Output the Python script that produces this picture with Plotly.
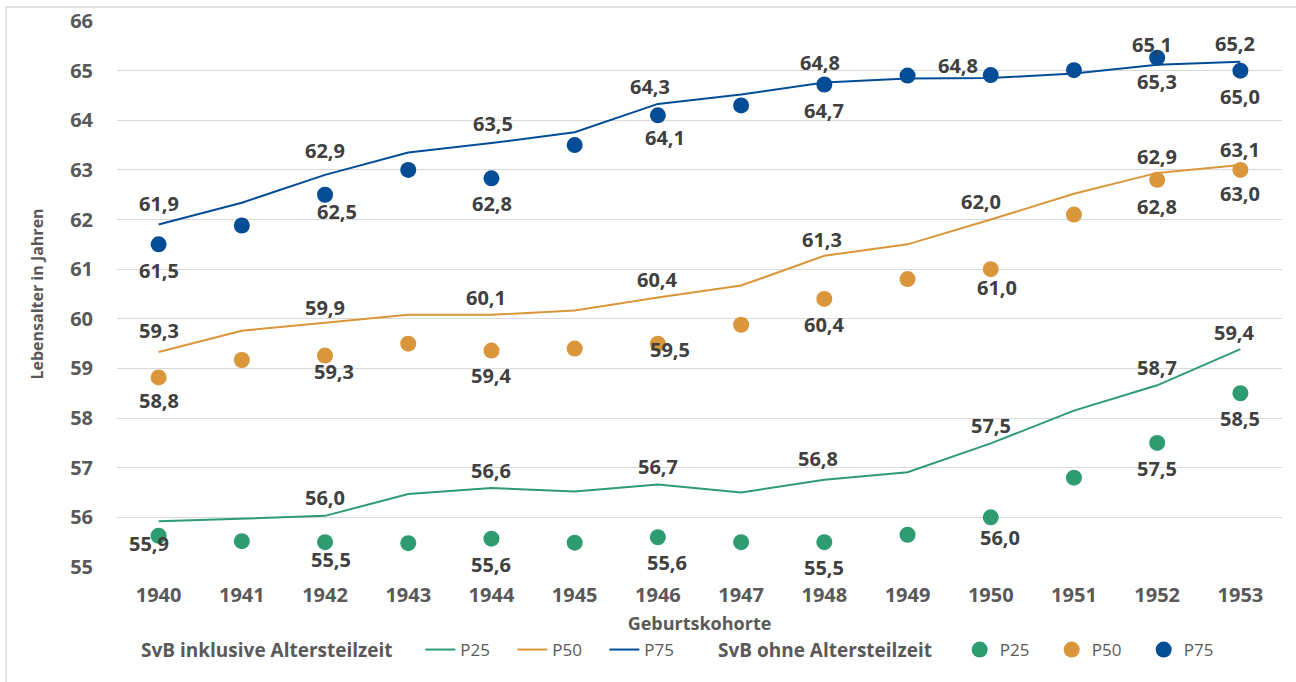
import plotly.graph_objects as go

# ---------------- data ----------------
years = ["1940", "1941", "1942", "1943", "1944", "1945", "1946",
         "1947", "1948", "1949", "1950", "1951", "1952", "1953"]

# SvB inklusive Altersteilzeit (lines)
inkl_p25 = [55.92, 55.98, 56.03, 56.47, 56.59, 56.52, 56.66, 56.50, 56.76, 56.91, 57.49, 58.15, 58.66, 59.39]
inkl_p50 = [59.33, 59.76, 59.92, 60.08, 60.08, 60.17, 60.43, 60.67, 61.27, 61.50, 62.00, 62.52, 62.94, 63.10]
inkl_p75 = [61.90, 62.34, 62.90, 63.35, 63.54, 63.76, 64.33, 64.52, 64.76, 64.84, 64.85, 64.94, 65.12, 65.18]

# SvB ohne Altersteilzeit (dots)
ohne_p25 = [55.63, 55.52, 55.50, 55.48, 55.57, 55.49, 55.60, 55.50, 55.50, 55.65, 56.00, 56.80, 57.50, 58.50]
ohne_p50 = [58.82, 59.17, 59.26, 59.50, 59.36, 59.40, 59.50, 59.88, 60.40, 60.80, 61.00, 62.10, 62.80, 63.00]
ohne_p75 = [61.50, 61.88, 62.50, 63.00, 62.83, 63.50, 64.10, 64.30, 64.72, 64.90, 64.91, 65.01, 65.26, 65.00]

y_ticks = [55, 56, 57, 58, 59, 60, 61, 62, 63, 64, 65, 66]

# ---------------- styles ----------------
GREEN = "#2E9B71"
ORANGE = "#D9963A"
BLUE = "#034C96"
LABEL_COLOR = "#404040"
TICK_COLOR = "#595959"
FONT = "Open Sans"

# data-label placement: year -> (xshift px, yshift px)
label_pos = {
    "inkl_p75": {"1940": (0, 21), "1942": (0, 24), "1944": (2, 20), "1946": (-8, 17),
                 "1948": (-4, 20), "1950": (-33, 13), "1952": (-5, 20), "1953": (-5, 18)},
    "ohne_p75": {"1940": (0, -26), "1942": (12, -17), "1944": (1, -25), "1946": (7, -22),
                 "1948": (0, -26), "1952": (0, -24), "1953": (0, -26)},
    "inkl_p50": {"1940": (0, 22), "1942": (0, 15), "1944": (-5, 17), "1946": (0, 18),
                 "1948": (-2, 16), "1950": (-10, 18), "1952": (0, 16), "1953": (0, 15)},
    "ohne_p50": {"1940": (0, -23), "1942": (9, -16), "1944": (0, -25), "1946": (12, -6),
                 "1948": (0, -26), "1950": (6, -18), "1952": (0, -27), "1953": (0, -24)},
    "inkl_p25": {"1940": (-10, -22), "1942": (0, 18), "1944": (0, 18), "1946": (0, 18),
                 "1948": (-6, 21), "1950": (0, 18), "1952": (0, 18), "1953": (-6, 17)},
    "ohne_p25": {"1942": (6, -17), "1944": (0, -26), "1946": (9, -25), "1948": (0, -25),
                 "1950": (9, -20), "1952": (0, -26), "1953": (0, -25)},
}

series_values = {
    "inkl_p25": inkl_p25, "inkl_p50": inkl_p50, "inkl_p75": inkl_p75,
    "ohne_p25": ohne_p25, "ohne_p50": ohne_p50, "ohne_p75": ohne_p75,
}

fig = go.Figure()

# lines (legend 1)
for name, vals, col in [("P25", inkl_p25, GREEN), ("P50", inkl_p50, ORANGE), ("P75", inkl_p75, BLUE)]:
    fig.add_trace(go.Scatter(x=years, y=vals, mode="lines", name=name,
                             line=dict(color=col, width=2), legend="legend",
                             hoverinfo="x+y"))

# dots (legend 2)
for name, vals, col in [("P25", ohne_p25, GREEN), ("P50", ohne_p50, ORANGE), ("P75", ohne_p75, BLUE)]:
    fig.add_trace(go.Scatter(x=years, y=vals, mode="markers", name=name,
                             marker=dict(color=col, size=16), legend="legend2",
                             hoverinfo="x+y"))

# data labels (x given as category index so "1940" is not read as a number)
annotations = []
for key, positions in label_pos.items():
    vals = series_values[key]
    for yr, (dx, dy) in positions.items():
        i = years.index(yr)
        v = vals[i]
        annotations.append(dict(
            x=i, y=v, xref="x", yref="y",
            text=f"{v:.1f}".replace(".", ","),
            showarrow=False, xshift=dx, yshift=dy,
            font=dict(family=FONT, size=20, color=LABEL_COLOR, weight="bold"),
        ))

W, H = 1296, 682
ML, MR, MT, MB = 117, 14, 21, 115
pw, ph = W - ML - MR, H - MT - MB


def px2paper_x(px):
    return (px - ML) / pw


def px2paper_y(py):
    return (H - MB - py) / ph


shapes = [
    dict(type="line", xref="paper", yref="paper",
         x0=px2paper_x(6), x1=px2paper_x(1296), y0=px2paper_y(7), y1=px2paper_y(7),
         line=dict(color="#D9D9D9", width=1.5)),
    dict(type="line", xref="paper", yref="paper",
         x0=px2paper_x(6), x1=px2paper_x(6), y0=px2paper_y(7), y1=px2paper_y(682),
         line=dict(color="#D9D9D9", width=1.5)),
]

NB = "&nbsp;" * 4

fig.update_layout(
    width=W, height=H,
    margin=dict(l=ML, r=MR, t=MT, b=MB, autoexpand=False),
    paper_bgcolor="white", plot_bgcolor="white",
    font=dict(family=FONT, color=TICK_COLOR),
    showlegend=True,
    annotations=annotations,
    shapes=shapes,
    xaxis=dict(
        type="category", categoryorder="array", categoryarray=years,
        tickfont=dict(family=FONT, size=20, color=TICK_COLOR, weight="bold"),
        showgrid=False, zeroline=False, showline=False, ticks="",
        ticklabelstandoff=14, automargin=False,
        title=dict(text="Geburtskohorte", standoff=10,
                   font=dict(family=FONT, size=18, color=TICK_COLOR, weight="bold")),
        range=[-0.5, 13.5],
    ),
    yaxis=dict(
        range=[55, 66], tickvals=y_ticks,
        tickfont=dict(family=FONT, size=20, color=TICK_COLOR, weight="bold"),
        showgrid=True, gridcolor="#D9D9D9", gridwidth=1,
        zeroline=False, showline=False, ticks="",
        ticklabelstandoff=23, automargin=False,
        title=dict(text="Lebensalter in Jahren", standoff=22,
                   font=dict(family=FONT, size=16, color=TICK_COLOR, weight="bold")),
    ),
    legend=dict(
        orientation="h", x=px2paper_x(139), xanchor="left",
        y=px2paper_y(650), yanchor="middle",
        title=dict(text="SvB inklusive Altersteilzeit" + NB, side="left",
                   font=dict(family=FONT, size=19, color=TICK_COLOR, weight="bold")),
        font=dict(family=FONT, size=17, color=TICK_COLOR),
        entrywidth=47, entrywidthmode="pixels",
        bgcolor="rgba(0,0,0,0)",
    ),
    legend2=dict(
        orientation="h", x=px2paper_x(716), xanchor="left",
        y=px2paper_y(650), yanchor="middle",
        title=dict(text="SvB ohne Altersteilzeit" + NB, side="left",
                   font=dict(family=FONT, size=19, color=TICK_COLOR, weight="bold")),
        font=dict(family=FONT, size=17, color=TICK_COLOR),
        entrywidth=47, entrywidthmode="pixels",
        bgcolor="rgba(0,0,0,0)",
    ),
)

fig.write_html("out.html", config={"displayModeBar": False},
               post_script="document.body.style.margin='0';")
